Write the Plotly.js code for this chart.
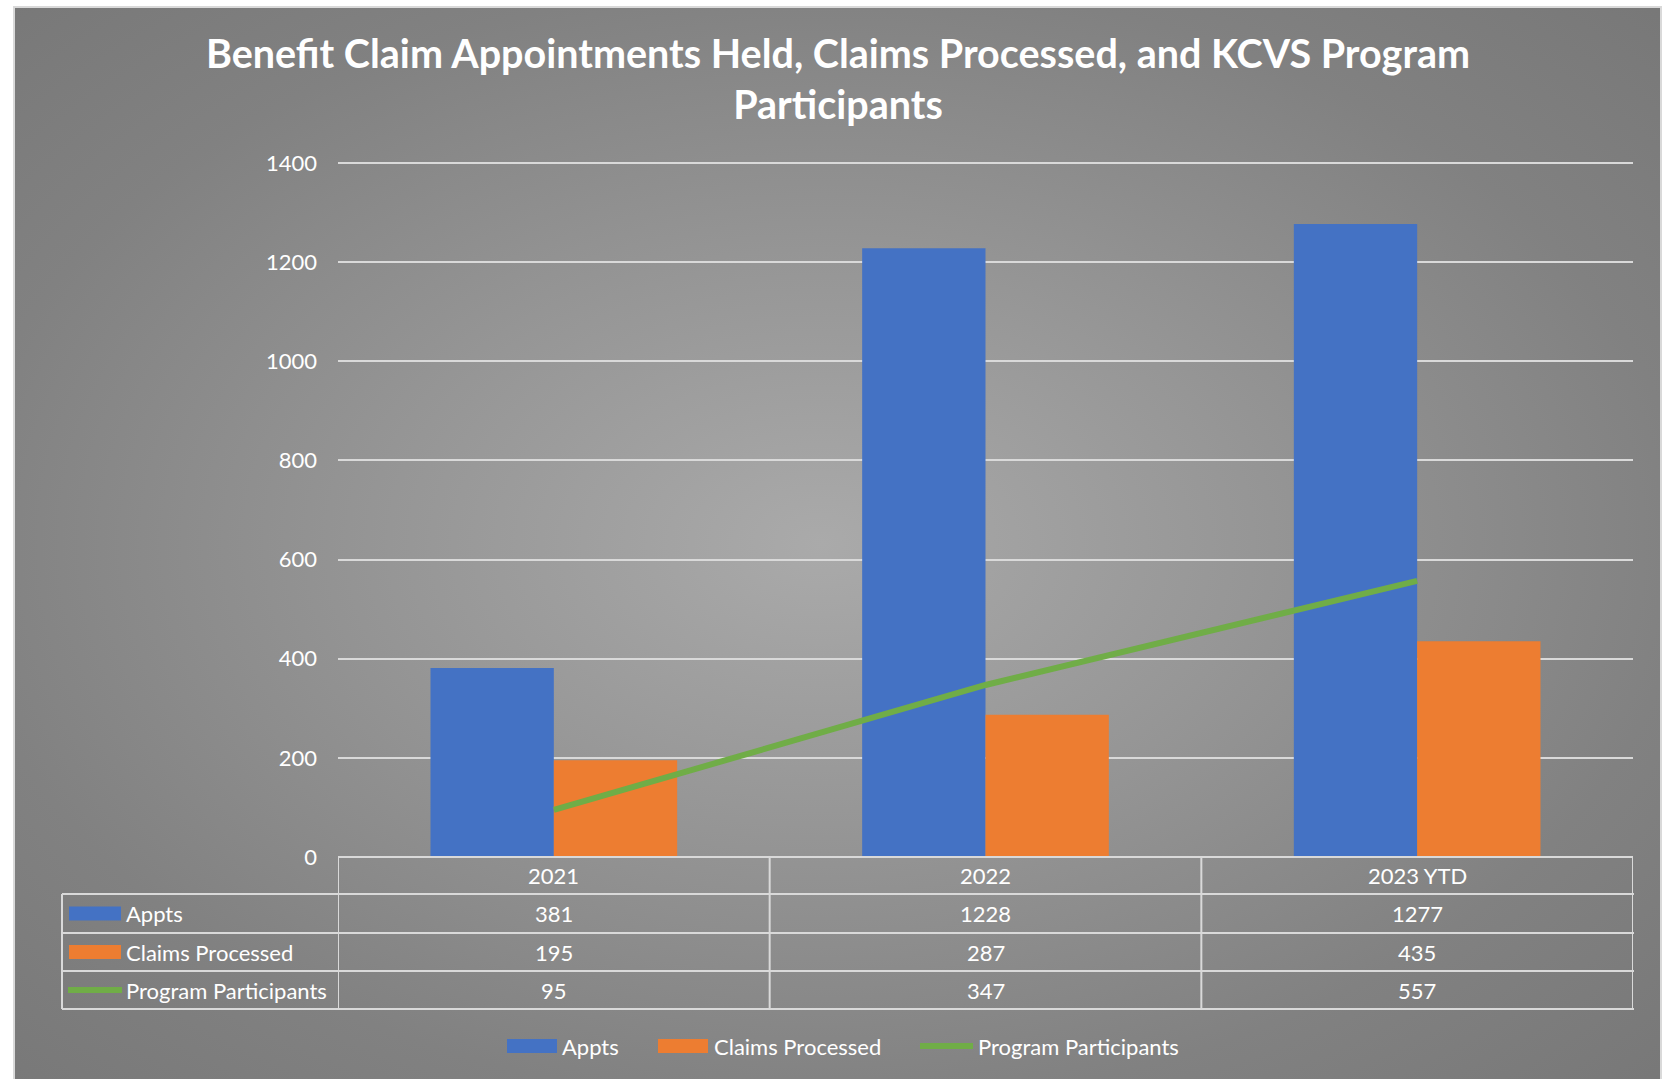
<!DOCTYPE html>
<html><head><meta charset="utf-8">
<script src="https://cdn.plot.ly/plotly-3.0.1.min.js"></script>
<style>
html,body{margin:0;padding:0;background:#ffffff;width:1673px;height:1079px;overflow:hidden}
#bg{position:absolute;left:13px;top:6px;width:1649px;height:1073px;box-sizing:border-box;
 background:radial-gradient(ellipse 75% 75% at 49% 50%, #aaaaaa 0%, #969696 35%, #818181 70%, #767676 100%);
 border-left:2px solid #d9d9d9;border-top:2px solid #d9d9d9;border-right:2px solid #d9d9d9}
#chart{position:absolute;left:0;top:0;width:1673px;height:1079px}
</style></head><body><div id="bg"></div><div id="chart"></div>
<script>
const categories = ["2021", "2022", "2023 YTD"];
const seriesNames = ["Appts", "Claims Processed", "Program Participants"];
const appts = [381, 1228, 1277];
const claimsProcessed = [195, 287, 435];
const programParticipants = [95, 347, 557];
const yTicks = [0, 200, 400, 600, 800, 1000, 1200, 1400];
const titleText = "Benefit Claim Appointments Held, Claims Processed, and KCVS Program<br>Participants";

const seriesValues = [appts, claimsProcessed, programParticipants];
const colors = ["#4472C4", "#ED7D31", "#70AD47"];

const W = 1673, H = 1079;
const M = {l: 338, r: 40, t: 153, b: 222};
const PW = W - M.l - M.r, PH = H - M.t - M.b;
const px = v => (v - M.l) / PW;           // pixel x -> paper x
const py = v => (H - M.b - v) / PH;       // pixel y -> paper y

const FONT = "Lato, 'Open Sans', sans-serif";
const FS = 22;
const lineCol = "#d9d9d9";

const traces = [
  {type: "bar", name: seriesNames[0], x: categories, y: appts,
   marker: {color: colors[0], line: {width: 0}}, hoverinfo: "y"},
  {type: "bar", name: seriesNames[1], x: categories, y: claimsProcessed,
   marker: {color: colors[1], line: {width: 0}}, hoverinfo: "y"},
  {type: "scatter", mode: "lines", name: seriesNames[2], x: categories, y: programParticipants,
   line: {color: colors[2], width: 6}, hoverinfo: "y"}
];

// table geometry (pixels)
const rowEdges = [857, 894, 933, 971, 1009];
const tableLeft = 62;
const shapes = [];
const annotations = [];

// horizontal table lines
shapes.push({type: "line", xref: "x", yref: "paper", x0: -0.5, x1: 2.5, y0: py(rowEdges[0]), y1: py(rowEdges[0]),
  line: {color: lineCol, width: 2}});
for (let i = 1; i < rowEdges.length; i++) {
  shapes.push({type: "line", xref: "paper", yref: "paper", x0: px(tableLeft), x1: px(1634), y0: py(rowEdges[i]), y1: py(rowEdges[i]),
    line: {color: lineCol, width: 2}});
}
// vertical lines
[-0.5, 0.5, 1.5, 2.5].forEach(xv => {
  shapes.push({type: "line", xref: "x", yref: "paper", x0: xv, x1: xv, y0: py(rowEdges[0]), y1: py(rowEdges[4]),
    line: {color: lineCol, width: 2}});
});
shapes.push({type: "line", xref: "paper", yref: "paper", x0: px(tableLeft), x1: px(tableLeft), y0: py(rowEdges[1]), y1: py(rowEdges[4]),
  line: {color: lineCol, width: 2}});

const txt = (s, x, y, xref, xanchor) => ({text: s, x: x, y: y, xref: xref, yref: "paper", xanchor: xanchor,
  yanchor: "middle", showarrow: false, font: {family: FONT, size: FS, color: "#ffffff"}});

// header row
categories.forEach((c, i) => annotations.push(txt(c, i, py((rowEdges[0] + rowEdges[1]) / 2), "x", "center")));
// data rows
seriesNames.forEach((name, r) => {
  const yc = py((rowEdges[r + 1] + rowEdges[r + 2]) / 2);
  seriesValues[r].forEach((v, i) => annotations.push(txt(String(v), i, yc, "x", "center")));
  annotations.push(txt(name, px(124), yc, "paper", "left"));
  if (r < 2) {
    shapes.push({type: "rect", xref: "paper", yref: "paper", x0: px(69), x1: px(121),
      y0: yc - 7 / PH, y1: yc + 7 / PH, fillcolor: colors[r], line: {width: 0}});
  } else {
    shapes.push({type: "line", xref: "paper", yref: "paper", x0: px(68), x1: px(122),
      y0: yc, y1: yc, line: {color: colors[r], width: 6}});
  }
});

// custom legend
const legY = py(1046);
const legKeys = [[507, 557, 560], [658, 708, 712], [920, 973, 976]];
seriesNames.forEach((name, r) => {
  const k = legKeys[r];
  if (r < 2) {
    shapes.push({type: "rect", xref: "paper", yref: "paper", x0: px(k[0]), x1: px(k[1]),
      y0: legY - 7 / PH, y1: legY + 7 / PH, fillcolor: colors[r], line: {width: 0}});
  } else {
    shapes.push({type: "line", xref: "paper", yref: "paper", x0: px(k[0]), x1: px(k[1]),
      y0: legY, y1: legY, line: {color: colors[r], width: 6}});
  }
  annotations.push(txt(name, px(k[2]), legY, "paper", "left"));
});

const layout = {
  width: W, height: H,
  margin: M,
  paper_bgcolor: "rgba(0,0,0,0)",
  plot_bgcolor: "rgba(0,0,0,0)",
  font: {family: FONT, color: "#ffffff", size: FS},
  title: {text: titleText, x: 838 / W, xanchor: "center", xref: "container", y: 1 - 68 / H, yanchor: "middle",
    font: {family: FONT, size: 39.5, color: "#ffffff", weight: "bold"}},
  barmode: "group",
  bargap: 1.5 / 3.5,
  bargroupgap: 0,
  showlegend: false,
  xaxis: {type: "category", range: [-0.5, 2.5], showticklabels: false, showgrid: false, zeroline: false,
    showline: false, ticks: "", fixedrange: true},
  yaxis: {range: [0, 1420], tickvals: yTicks, ticktext: yTicks.map(String), showgrid: true,
    gridcolor: lineCol, gridwidth: 2, zeroline: false, showline: false, ticks: "",
    ticklabelstandoff: 20, tickfont: {family: FONT, size: FS, color: "#ffffff"}, fixedrange: true},
  shapes: shapes,
  annotations: annotations
};

Plotly.newPlot("chart", traces, layout, {displayModeBar: false, staticPlot: true});
</script>
</body></html>
